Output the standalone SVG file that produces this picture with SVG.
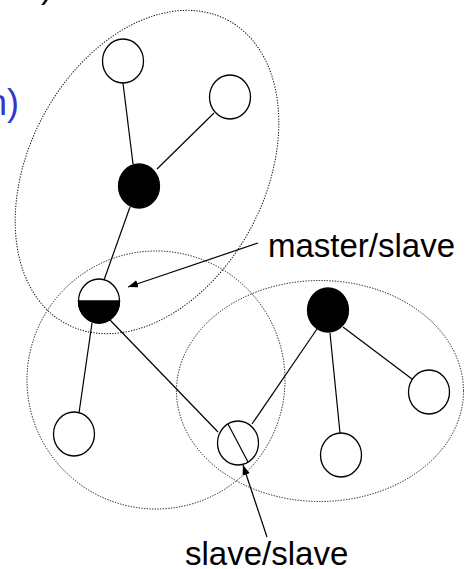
<svg xmlns="http://www.w3.org/2000/svg" width="470" height="569" viewBox="0 0 470 569">
  <style>
    .zone { fill: none; stroke: #111; stroke-width: 1; stroke-dasharray: 1.3 1.4; }
    .link { stroke: #000; stroke-width: 1.2; fill: none; }
    .node { fill: #fff; stroke: #000; stroke-width: 1.3; }
    .master { fill: #000; stroke: #000; stroke-width: 1.3; }
    .callout { stroke: #000; stroke-width: 1.2; fill: none; marker-end: url(#tip); }
    .label { font-family: "Liberation Sans", Arial, sans-serif; font-size: 33px; fill: #000; }
  </style>
  <defs>
    <marker id="tip" markerUnits="userSpaceOnUse" markerWidth="11" markerHeight="8" refX="10" refY="3.75" orient="auto">
      <path d="M0,0 L10,3.75 L0,7.5 z" fill="#000"/>
    </marker>
  </defs>

  <rect width="470" height="569" fill="#fff"/>

  <!-- clipped fragments of surrounding text -->
  <text x="41" y="-2" class="label">)</text>
  <text x="-13" y="115" font-family="Liberation Sans, Arial, sans-serif" font-size="36" fill="#3535cc">n)</text>

  <!-- piconet boundaries -->
  <g id="zones">
    <ellipse id="zone-top" class="zone" cx="147" cy="172" rx="172" ry="118" transform="rotate(-62 147 172)"/>
    <circle id="zone-middle" class="zone" cx="156" cy="380" r="129"/>
    <ellipse id="zone-right" class="zone" cx="320" cy="391" rx="143.5" ry="110.5"/>
  </g>

  <!-- links -->
  <g id="connectors">
    <line class="link" x1="123" y1="83" x2="133" y2="164"/>
    <line class="link" x1="214" y1="113" x2="157" y2="169"/>
    <line class="link" x1="130" y1="207" x2="104" y2="280"/>
    <line class="link" x1="92" y1="323" x2="79" y2="413"/>
    <line class="link" x1="110" y1="320" x2="218" y2="432"/>
    <line class="link" x1="317" y1="329" x2="252" y2="424"/>
    <line class="link" x1="330" y1="333" x2="340" y2="433"/>
    <line class="link" x1="343" y1="327" x2="412" y2="379"/>
  </g>

  <!-- devices -->
  <g id="n-top-left"><ellipse class="node" cx="123" cy="61" rx="20.5" ry="22"/></g>
  <g id="n-top-right"><ellipse class="node" cx="230" cy="97" rx="20.5" ry="22"/></g>
  <g id="n-master-1"><ellipse class="master" cx="139" cy="186" rx="20.5" ry="22"/></g>
  <g id="n-master-slave">
    <ellipse class="node" cx="99" cy="301" rx="20.5" ry="22"/>
    <path d="M78.5,301 A20.5,22 0 0,0 119.5,301 Z" fill="#000" stroke="#000" stroke-width="1.3"/>
  </g>
  <g id="n-bottom-left"><ellipse class="node" cx="74" cy="434" rx="20.5" ry="22"/></g>
  <g id="n-slave-slave">
    <ellipse class="node" cx="238" cy="443" rx="20.5" ry="22"/>
    <line class="link" x1="228" y1="424" x2="248" y2="462"/>
  </g>
  <g id="n-master-2"><ellipse class="master" cx="328" cy="310" rx="20.5" ry="22"/></g>
  <g id="n-right"><ellipse class="node" cx="429" cy="392" rx="20.5" ry="22"/></g>
  <g id="n-bottom-right"><ellipse class="node" cx="341" cy="455" rx="20.5" ry="22"/></g>

  <!-- annotations -->
  <g id="callouts">
    <line class="callout" x1="258" y1="243" x2="128" y2="287"/>
    <line class="callout" x1="267" y1="537" x2="243" y2="465"/>
  </g>
  <text x="268" y="257" class="label">master/slave</text>
  <text x="185" y="565" class="label">slave/slave</text>
</svg>
